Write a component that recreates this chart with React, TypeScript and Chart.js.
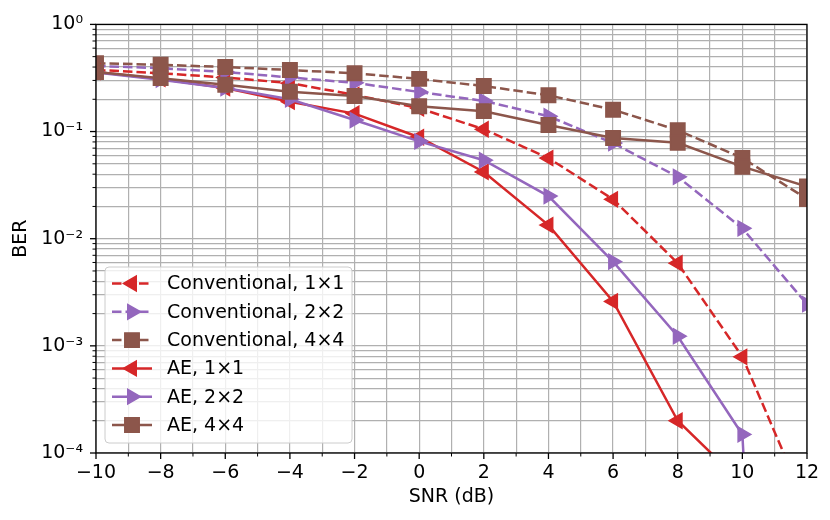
import React, { useEffect, useRef } from 'react';
import { Chart, registerables } from 'chart.js';

Chart.register(...registerables);

// SNR points (dB)
const snr = [-10, -8, -6, -4, -2, 0, 2, 4, 6, 8, 10, 12];

// BER
const conv1x1 = [0.376, 0.35, 0.32, 0.283, 0.22, 0.165, 0.105, 0.0566, 0.0233, 0.0059, 0.00079, 0.000031];
const conv2x2 = [0.41, 0.39, 0.36, 0.32, 0.285, 0.234, 0.193, 0.139, 0.078, 0.0378, 0.0125, 0.00245];
const conv4x4 = [0.435, 0.42, 0.4, 0.375, 0.35, 0.31, 0.266, 0.218, 0.16, 0.103, 0.0566, 0.0235];
const ae1x1 = [0.36, 0.31, 0.255, 0.19, 0.147, 0.0885, 0.042, 0.0134, 0.0026, 0.0002, 0.000052, null];
const ae2x2 = [0.355, 0.305, 0.255, 0.2, 0.128, 0.081, 0.054, 0.025, 0.0061, 0.00123, 0.000149, 1e-15];
const ae4x4 = [0.36, 0.315, 0.273, 0.235, 0.215, 0.172, 0.155, 0.115, 0.087, 0.0785, 0.047, 0.0307];

// y axis: decades and their labels
const yDecades = [1e-4, 1e-3, 1e-2, 1e-1, 1];
const yDecadeLabels = ['10⁻⁴', '10⁻³', '10⁻²', '10⁻¹', '10⁰'];

const RED = '#d62728';
const PURPLE = '#9467bd';
const BROWN = '#8c564b';

type Marker = 'left' | 'right' | 'rect';

const series: { label: string; data: (number | null)[]; color: string; dashed: boolean; marker: Marker }[] = [
    { label: 'Conventional, 1×1', data: conv1x1, color: RED, dashed: true, marker: 'left' },
    { label: 'Conventional, 2×2', data: conv2x2, color: PURPLE, dashed: true, marker: 'right' },
    { label: 'Conventional, 4×4', data: conv4x4, color: BROWN, dashed: true, marker: 'rect' },
    { label: 'AE, 1×1', data: ae1x1, color: RED, dashed: false, marker: 'left' },
    { label: 'AE, 2×2', data: ae2x2, color: PURPLE, dashed: false, marker: 'right' },
    { label: 'AE, 4×4', data: ae4x4, color: BROWN, dashed: false, marker: 'rect' },
];

const FONT_SIZE = 19;
const DASH = [9.5, 4];
const TRI_R = 8.5;
const SQ_R = 10.2;

// every gridline of the log axis: 1..9 x 10^n
const yGridValues: number[] = [];
for (let i = 0; i < yDecades.length - 1; i++) {
    for (let m = 1; m < 10; m++) yGridValues.push(m * yDecades[i]);
}
yGridValues.push(yDecades[yDecades.length - 1]);

const isDecade = (v: number) => yDecades.some((d) => Math.abs(d - v) / d < 1e-9);

function drawMarker(ctx: CanvasRenderingContext2D, kind: Marker, x: number, y: number, color: string) {
    ctx.save();
    ctx.setLineDash([]);
    ctx.fillStyle = color;
    ctx.strokeStyle = color;
    ctx.lineWidth = 1.5;
    ctx.beginPath();
    if (kind === 'rect') {
        const h = SQ_R * Math.SQRT1_2;
        ctx.rect(x - h, y - h, 2 * h, 2 * h);
    } else {
        let rad = ((kind === 'left' ? -90 : 90) * Math.PI) / 180;
        ctx.moveTo(x + Math.sin(rad) * TRI_R, y - Math.cos(rad) * TRI_R);
        for (let k = 0; k < 2; k++) {
            rad += (2 * Math.PI) / 3;
            ctx.lineTo(x + Math.sin(rad) * TRI_R, y - Math.cos(rad) * TRI_R);
        }
        ctx.closePath();
    }
    ctx.fill();
    ctx.stroke();
    ctx.restore();
}

// axes box + matplotlib style major/minor tick marks
const framePlugin = {
    id: 'frame',
    afterDatasetsDraw(chart: any) {
        const { ctx, chartArea: a, scales } = chart;
        ctx.save();
        ctx.strokeStyle = '#000';
        ctx.setLineDash([]);
        for (const t of scales.x.ticks) {
            const px = scales.x.getPixelForValue(t.value);
            const major = t.value % 2 === 0;
            ctx.lineWidth = major ? 1.3 : 1;
            ctx.beginPath();
            ctx.moveTo(px, a.bottom);
            ctx.lineTo(px, a.bottom + (major ? 6 : 3.5));
            ctx.stroke();
        }
        for (const t of scales.y.ticks) {
            const py = scales.y.getPixelForValue(t.value);
            const major = isDecade(t.value);
            ctx.lineWidth = major ? 1.3 : 1;
            ctx.beginPath();
            ctx.moveTo(a.left, py);
            ctx.lineTo(a.left - (major ? 6 : 3.5), py);
            ctx.stroke();
        }
        ctx.lineWidth = 1.3;
        ctx.strokeRect(a.left, a.top, a.right - a.left, a.bottom - a.top);
        ctx.restore();
    },
};

// legend box in the lower left of the plot
const legendPlugin = {
    id: 'boxLegend',
    afterDraw(chart: any) {
        const { ctx, chartArea: a } = chart;
        const rowH = 28.3;
        const boxX = a.left + 9;
        const boxW = 247;
        const boxH = 176;
        const boxY = a.bottom - 10 - boxH;
        ctx.save();
        ctx.beginPath();
        ctx.roundRect(boxX, boxY, boxW, boxH, 4);
        ctx.fillStyle = 'rgba(255,255,255,0.8)';
        ctx.fill();
        ctx.strokeStyle = '#cccccc';
        ctx.lineWidth = 1;
        ctx.stroke();
        ctx.font = FONT_SIZE + 'px "DejaVu Sans"';
        ctx.textBaseline = 'middle';
        ctx.textAlign = 'left';
        series.forEach((s, i) => {
            const y = boxY + 16.5 + i * rowH;
            const x0 = boxX + 7;
            const x1 = x0 + 40;
            ctx.strokeStyle = s.color;
            ctx.lineWidth = 2.5;
            ctx.setLineDash(s.dashed ? DASH : []);
            ctx.beginPath();
            ctx.moveTo(x0, y);
            ctx.lineTo(x1, y);
            ctx.stroke();
            drawMarker(ctx, s.marker, (x0 + x1) / 2, y, s.color);
            ctx.fillStyle = '#000';
            ctx.fillText(s.label, boxX + 62, y + 1);
        });
        ctx.restore();
    },
};

const BerChart: React.FC = () => {
    const canvasRef = useRef<HTMLCanvasElement | null>(null);

    useEffect(() => {
        if (!canvasRef.current) return;
        Chart.defaults.font.family = '"DejaVu Sans", sans-serif';
        Chart.defaults.font.size = FONT_SIZE;
        Chart.defaults.color = '#000';

        const chart = new Chart(canvasRef.current, {
            type: 'line',
            data: {
                datasets: series.map((s, i) => ({
                    label: s.label,
                    data: snr.map((x, j) => ({ x, y: s.data[j] })),
                    borderColor: s.color,
                    backgroundColor: s.color,
                    borderWidth: 2.5,
                    borderDash: s.dashed ? DASH : [],
                    pointStyle: s.marker === 'rect' ? 'rect' : 'triangle',
                    rotation: s.marker === 'left' ? -90 : s.marker === 'right' ? 90 : 0,
                    pointRadius: s.marker === 'rect' ? SQ_R : TRI_R,
                    pointBackgroundColor: s.color,
                    pointBorderColor: s.color,
                    pointBorderWidth: 1.5,
                    tension: 0,
                    fill: false,
                    clip: 0,
                    order: series.length - i,
                })) as any,
            },
            options: {
                animation: false,
                responsive: true,
                maintainAspectRatio: false,
                layout: { padding: { top: 20, right: 23, left: 0, bottom: 0 } },
                plugins: {
                    legend: { display: false },
                    tooltip: { enabled: false },
                },
                scales: {
                    x: {
                        type: 'linear',
                        min: -10,
                        max: 12,
                        ticks: {
                            stepSize: 1,
                            autoSkip: false,
                            maxRotation: 0,
                            padding: 9,
                            callback: (v: any) => {
                                const n = Number(v);
                                if (n % 2 !== 0) return '';
                                return n < 0 ? '\u2212' + Math.abs(n) : String(n);
                            },
                        },
                        grid: { color: '#b0b0b0', lineWidth: 1.2, drawTicks: false },
                        border: { display: false },
                        title: { display: true, text: 'SNR (dB)', padding: { top: 4, bottom: 11.5 } },
                        afterFit: (s: any) => {
                            s.height = 67;
                        },
                    },
                    y: {
                        type: 'logarithmic',
                        min: 1e-4,
                        max: 1,
                        afterBuildTicks: (s: any) => {
                            s.ticks = yGridValues.map((value) => ({ value }));
                        },
                        ticks: {
                            autoSkip: false,
                            padding: 13,
                            callback: (v: any) => {
                                const n = Number(v);
                                const k = yDecades.findIndex((d) => Math.abs(d - n) / d < 1e-9);
                                return k >= 0 ? yDecadeLabels[k] : '';
                            },
                        },
                        grid: { color: '#b0b0b0', lineWidth: 1.2, drawTicks: false },
                        border: { display: false },
                        title: { display: true, text: 'BER', padding: { top: 10, bottom: 10 } },
                        afterFit: (s: any) => {
                            s.width = 96;
                        },
                    },
                },
            },
            plugins: [framePlugin, legendPlugin],
        });

        return () => {
            chart.destroy();
        };
    }, []);

    return <canvas ref={canvasRef} />;
};

const App: React.FC = () => (
    <div style={{ position: 'fixed', left: 0, top: 0, width: 830, height: 520, background: '#fff' }}>
        <BerChart />
    </div>
);

export default App;
